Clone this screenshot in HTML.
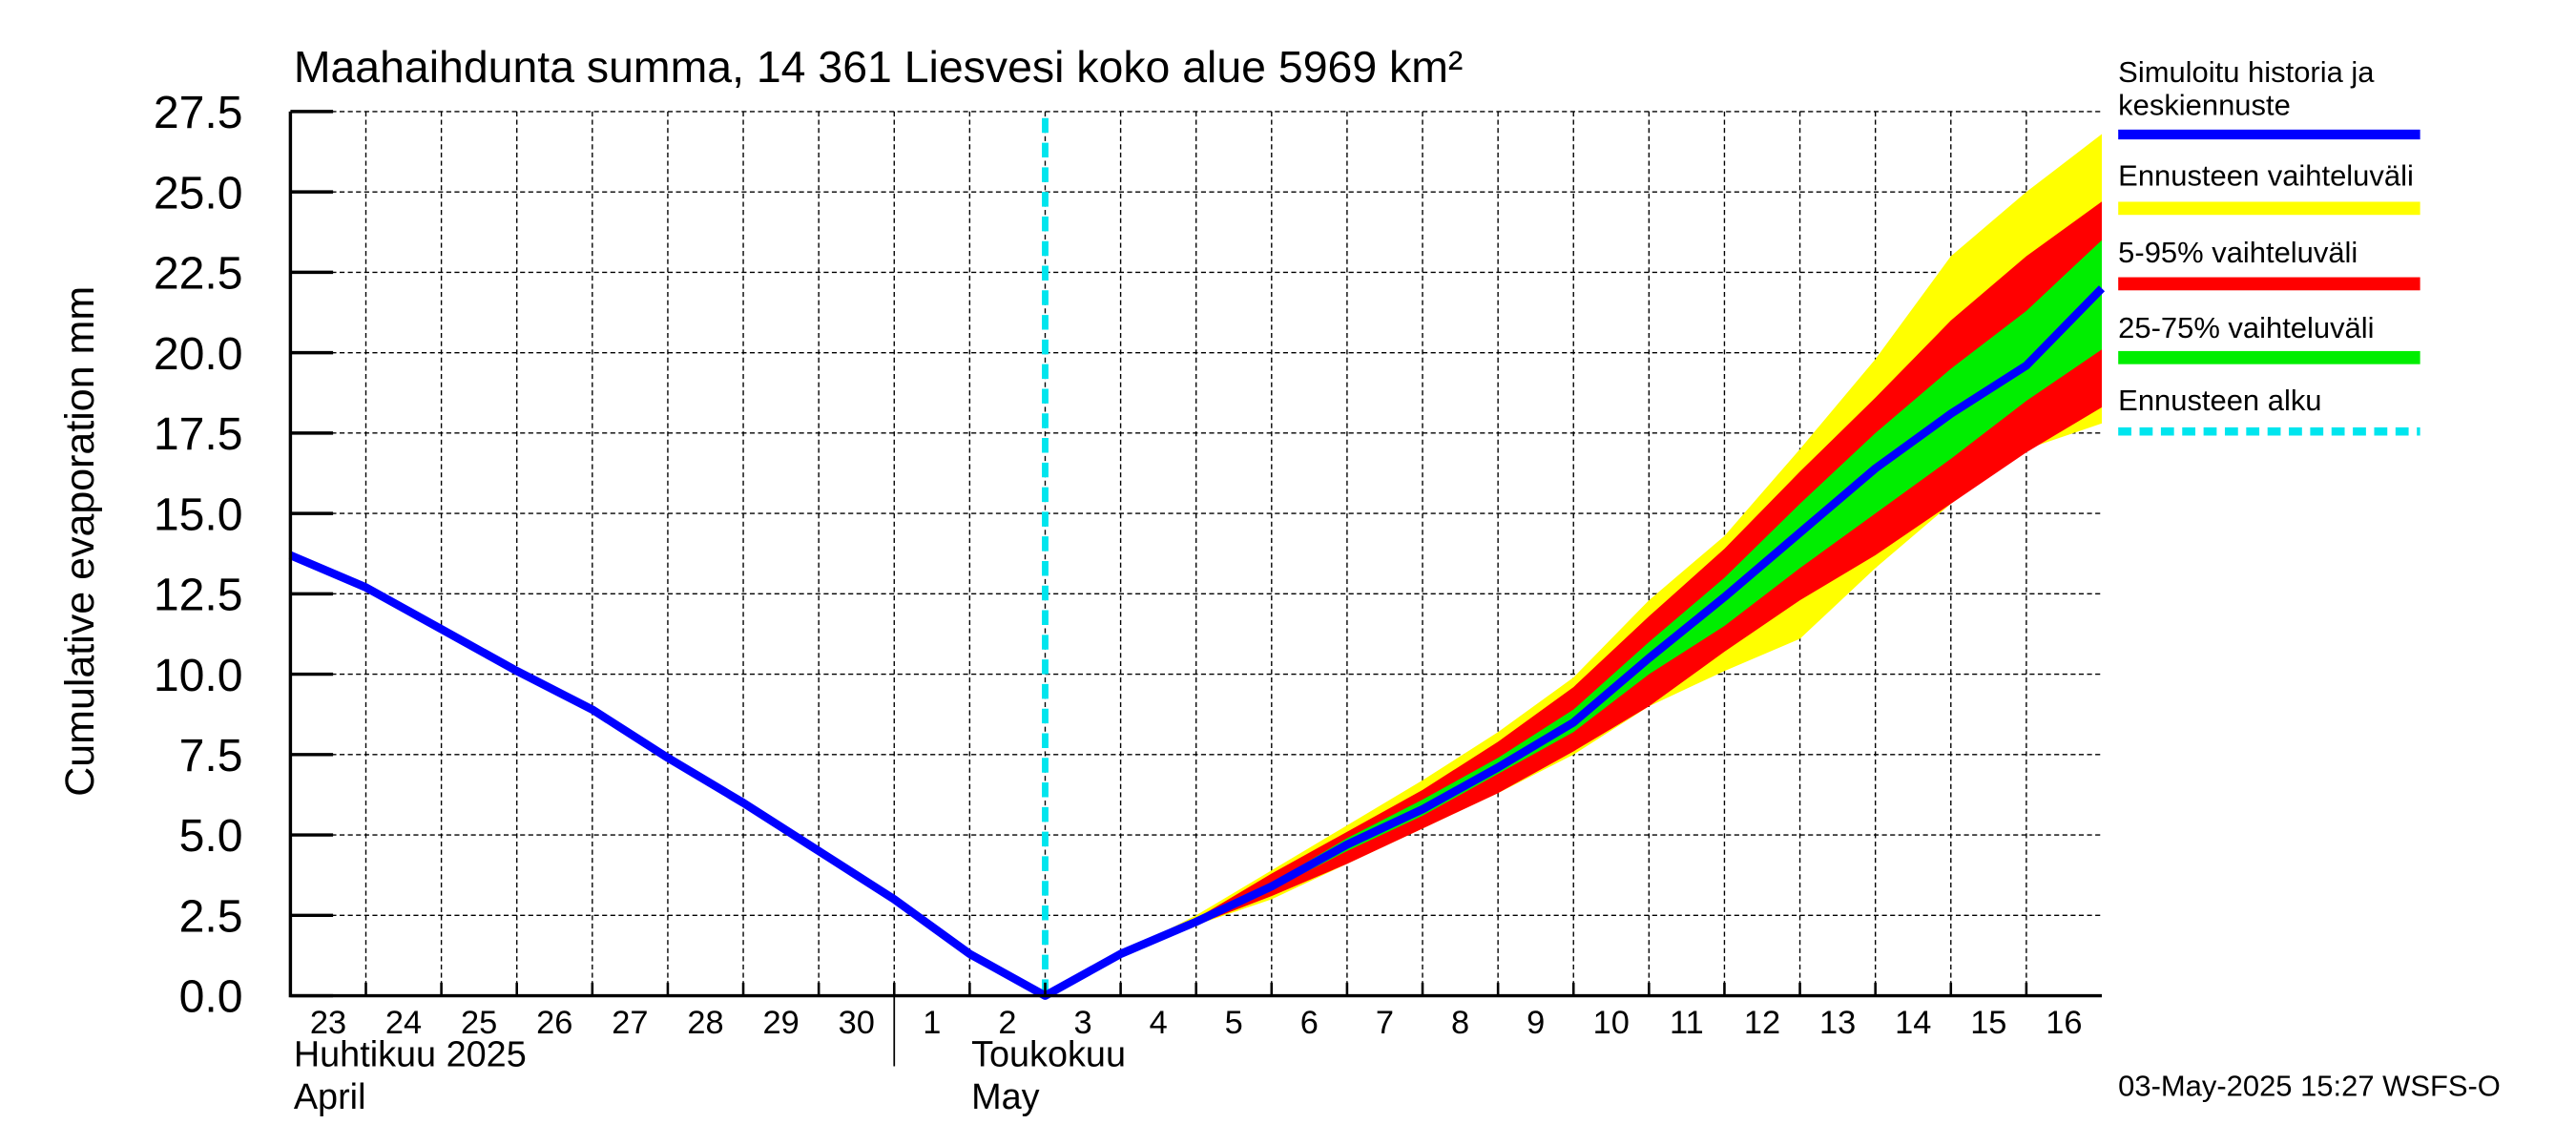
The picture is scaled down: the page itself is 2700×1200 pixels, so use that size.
<!DOCTYPE html>
<html><head><meta charset="utf-8"><style>
html,body{margin:0;padding:0;background:#fff;}
svg{display:block;font-family:"Liberation Sans",sans-serif;}
</style></head><body>
<svg id="chart" width="2700" height="1200" viewBox="0 0 1570 698" preserveAspectRatio="none" xmlns="http://www.w3.org/2000/svg">
<rect width="1570" height="698" fill="#fff"/>
<g id="grid"></g>
<g id="bands"></g>
<g id="lines"></g>
<g id="axes"></g>
<text x="179" y="50" font-size="27">Maahaihdunta summa, 14 361 Liesvesi koko alue 5969 km²</text>
<text transform="translate(57,330) rotate(-90)" text-anchor="middle" font-size="25">Cumulative evaporation   mm</text>
<g font-size="18">
<text x="1291" y="50">Simuloitu historia ja</text>
<text x="1291" y="70">keskiennuste</text>
<rect x="1291" y="79" width="184" height="6" fill="#0000ff"/>
<text x="1291" y="113">Ennusteen vaihteluväli</text>
<rect x="1291" y="123" width="184" height="8" fill="#ffff00"/>
<text x="1291" y="160">5-95% vaihteluväli</text>
<rect x="1291" y="169" width="184" height="8" fill="#ff0000"/>
<text x="1291" y="206">25-75% vaihteluväli</text>
<rect x="1291" y="214" width="184" height="8" fill="#00ee00"/>
<text x="1291" y="250">Ennusteen alku</text>
<line x1="1291" y1="263" x2="1475" y2="263" stroke="#00e5ee" stroke-width="5" stroke-dasharray="8,5"/>
</g>
<text x="1291" y="668" font-size="18">03-May-2025 15:27 WSFS-O</text>
</svg>
<script>
const days = ["23","24","25","26","27","28","29","30","1","2","3","4","5","6","7","8","9","10","11","12","13","14","15","16"];
const yTicks = [0,2.5,5,7.5,10,12.5,15,17.5,20,22.5,25,27.5];
const median = [13.7,12.7,11.4,10.1,8.9,7.4,6.0,4.5,3.0,1.3,0,1.3,2.3,3.4,4.7,5.8,7.1,8.5,10.5,12.4,14.4,16.4,18.1,19.6,22.0];
const forecastStartIndex = 10;
const yellowUpper = [0,1.3,2.5,3.9,5.3,6.7,8.2,9.9,12.3,14.3,17.0,19.8,23.0,25.0,26.8];
const yellowLower = [0,1.3,2.2,3.0,4.1,5.2,6.3,7.5,9.0,10.1,11.1,13.3,15.3,17.0,17.8];
const redUpper = [0,1.3,2.4,3.8,5.1,6.4,7.9,9.6,11.8,13.9,16.3,18.6,21.0,23.0,24.7];
const redLower = [0,1.3,2.2,3.1,4.1,5.2,6.3,7.6,9.0,10.7,12.3,13.7,15.3,16.9,18.3];
const greenUpper = [0,1.3,2.3,3.5,4.9,6.1,7.4,8.9,11.0,13.0,15.3,17.5,19.5,21.3,23.5];
const greenLower = [0,1.3,2.2,3.3,4.5,5.6,6.9,8.2,10.0,11.5,13.3,15.0,16.7,18.5,20.1];

const NS="http://www.w3.org/2000/svg";
const X0=177,X1=1281,Y0=607,Y1=68,YMAX=27.5;
const xs=i=>X0+i*(X1-X0)/days.length;
const ys=v=>Y0-v*(Y0-Y1)/YMAX;
function mk(tag,parent,attrs){const e=document.createElementNS(NS,tag);for(const k in attrs)e.setAttribute(k,attrs[k]);parent.appendChild(e);return e;}
const grid=document.getElementById('grid'),bands=document.getElementById('bands'),lines=document.getElementById('lines'),axes=document.getElementById('axes');
yTicks.forEach(v=>{
  if(v>0){const l=mk('line',grid,{x1:X0,x2:X1,y1:ys(v),y2:ys(v),stroke:'#000','stroke-width':0.8,'stroke-dasharray':'3,2'});
  
  }
  const t=mk('line',axes,{x1:X0,x2:X0+26,y1:ys(v),y2:ys(v),stroke:'#000','stroke-width':2});
  
  
  const tx=mk('text',axes,{x:148,y:ys(v)+10,'text-anchor':'end','font-size':28});
  tx.textContent=v.toFixed(1);
  
  
});
days.forEach((d,i)=>{
  if(i>0){const l=mk('line',grid,{x1:xs(i),x2:xs(i),y1:Y1,y2:Y0,stroke:'#000','stroke-width':0.8,'stroke-dasharray':'3,2'});
  
  }
  const t=mk('line',axes,{x1:xs(i),x2:xs(i),y1:Y0,y2:Y0-8,stroke:'#000','stroke-width':1.5});
  
  
  const tx=mk('text',axes,{x:(xs(i)+xs(i+1))/2,y:630,'text-anchor':'middle','font-size':20});
  tx.textContent=d;
  
  
});
function band(up,lo,color,name){
  let pts=up.map((v,k)=>xs(forecastStartIndex+k)+','+ys(v));
  pts=pts.concat(lo.map((v,k)=>xs(forecastStartIndex+k)+','+ys(v)).reverse());
  const p=mk('polygon',bands,{points:pts.join(' '),fill:color});
  
  
}
band(yellowUpper,yellowLower,'#ffff00','band-range');
band(redUpper,redLower,'#ff0000','band-5-95');
band(greenUpper,greenLower,'#00ee00','band-25-75');
const fs=mk('line',lines,{x1:xs(forecastStartIndex),x2:xs(forecastStartIndex),y1:72,y2:Y0,stroke:'#00e5ee','stroke-width':4,'stroke-dasharray':'9,6'});


const ml=mk('polyline',lines,{points:median.map((v,i)=>xs(i)+','+ys(v)).join(' '),fill:'none',stroke:'#0000ff','stroke-width':5,'stroke-linejoin':'round'});


const ax=mk('polyline',axes,{points:`${X0},${Y1} ${X0},${Y0} ${X1},${Y0}`,fill:'none',stroke:'#000','stroke-width':2});


const sep=mk('line',axes,{x1:545,x2:545,y1:Y0,y2:650,stroke:'#000','stroke-width':1});


[["Huhtikuu  2025",179,650,'month-label-april-fi'],["April",179,676,'month-label-april-en'],["Toukokuu",592,650,'month-label-may-fi'],["May",592,676,'month-label-may-en']].forEach(a=>{
  const t=mk('text',axes,{x:a[1],y:a[2],'font-size':22});
  t.textContent=a[0];
  
  
});
</script>
</body></html>
